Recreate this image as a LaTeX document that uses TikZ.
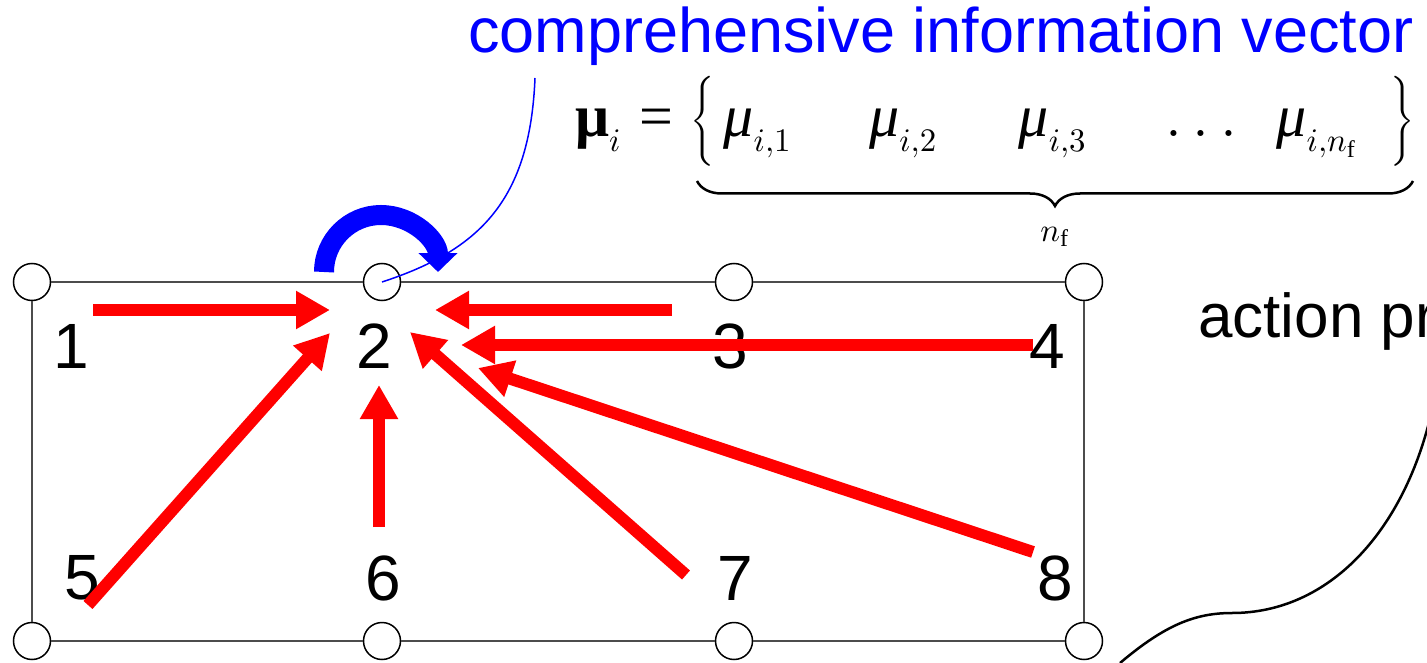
\documentclass[tikz,border=0pt]{standalone}
\usepackage{fontspec}
\setmainfont{Liberation Serif}
\setsansfont{Liberation Sans}
\usetikzlibrary{arrows.meta,positioning,decorations.pathreplacing}
\DeclareMathSizes{20}{20}{11}{8}
\DeclareMathSizes{11}{11}{8}{6}

\begin{document}
\begin{tikzpicture}[
  x=1pt, y=-1pt,
  every node/.style={font=\sffamily\fontsize{64}{70}\selectfont, inner sep=0pt},
  joint/.style={circle, draw, line width=1.5pt, fill=white, minimum size=37pt},
  frame/.style={draw=black!70, line width=1.5pt},
  flow/.style={draw=red, line width=12pt, -{Triangle[length=34pt,width=36pt]}},
  loopback/.style={draw=blue, line width=20pt, -{Triangle[length=19pt,width=38pt]}},
  lead/.style={draw=blue, line width=1.5pt},
]
\useasboundingbox (0,0) rectangle (1427,663);

% mesh joints
\node[joint] (ja) at (32,282) {};
\node[joint] (jb) at (382,282) {};
\node[joint] (jc) at (734,282) {};
\node[joint] (jd) at (1084,282) {};
\node[joint] (je) at (32,641) {};
\node[joint] (jf) at (382,641) {};
\node[joint] (jg) at (734,641) {};
\node[joint] (jh) at (1084,641) {};

\draw[frame] (ja) -- (jb);
\draw[frame] (jb) -- (jc);
\draw[frame] (jc) -- (jd);
\draw[frame] (jd) -- (jh);
\draw[frame] (jh) -- (jg);
\draw[frame] (jg) -- (jf);
\draw[frame] (jf) -- (je);
\draw[frame] (je) -- (ja);

% element numbers
\node (l1) at (71,346) {1};
\node (l2) at (374,346) {2};
\node (l3) at (730,346) {3};
\node (l4) at (1047,346) {4};
\node (l5) at (82,578) {5};
\node (l6) at (383,578) {6};
\node (l7) at (735,578) {7};
\node (l8) at (1055,578) {8};

% neighbour information flowing into element 2
\coordinate (s1) at (93,310);   \coordinate (e1) at (330,310);
\coordinate (s3) at (672,310);  \coordinate (e3) at (435,310);
\coordinate (s4) at (1033,345); \coordinate (e4) at (461,345);
\coordinate (s5) at (88,605);   \coordinate (e5) at (330,333);
\coordinate (s6) at (379,527);  \coordinate (e6) at (379,385);
\coordinate (s7) at (686,575);  \coordinate (e7) at (410,332);
\coordinate (s8) at (1033,552); \coordinate (e8) at (478,368);

\draw[flow] (s1) -- (e1);
\draw[flow] (s3) -- (e3);
\draw[flow] (s4) -- (e4);
\draw[flow] (s5) -- (e5);
\draw[flow] (s6) -- (e6);
\draw[flow] (s7) -- (e7);
\draw[flow] (s8) -- (e8);

% self loop
\draw[loopback] (324,272) arc[start angle=180, end angle=360, radius=57];

% vector label
\node[anchor=base west, text=blue, font=\sffamily\fontsize{63}{70}\selectfont]
  (title) at (468,53) {comprehensive information vector};
\coordinate (leadend) at (535,78);
\draw[lead] (jb.center) .. controls (480,250) and (530,200) .. (leadend);

\node[anchor=base west, font=\rmfamily\fontsize{20}{24}\selectfont] (muvec) at (575,137)
  {\scalebox{3}{$\mbox{\bfseries μ}_{i}\mathrel{\mbox{=}}\left\{\vcenter{\hbox{\rule{0pt}{32pt}}}%
   \hspace{3pt}\mbox{\itshape μ}_{i,1}\hspace{25.7pt}\mbox{\itshape μ}_{i,2}\hspace{27pt}%
   \mbox{\itshape μ}_{i,3}\hspace{22.7pt}\ldots\hspace{9.7pt}%
   \mbox{\itshape μ}_{i,n_{\mathrm{f}}}\hspace{11pt}\right\}$}};

\coordinate (brl) at (697,181);
\coordinate (brr) at (1413,181);
\draw[decorate, decoration={brace, amplitude=25pt, mirror}, line width=2.5pt]
  (brl) -- (brr);
\node[font=\rmfamily\fontsize{11}{13}\selectfont] (nf) at (1055,237)
  {\scalebox{3}{$n_{\mathrm{f}}$}};

% action side
\node[anchor=base west, font=\sffamily\fontsize{62}{68}\selectfont] (act) at (1198,337) {action pr};
\draw[line width=2.5pt] (1120,663) .. controls (1165,625) and (1195,613) .. (1232,613)
  .. controls (1330,613) and (1405,530) .. (1432,410);
\end{tikzpicture}
\end{document}
